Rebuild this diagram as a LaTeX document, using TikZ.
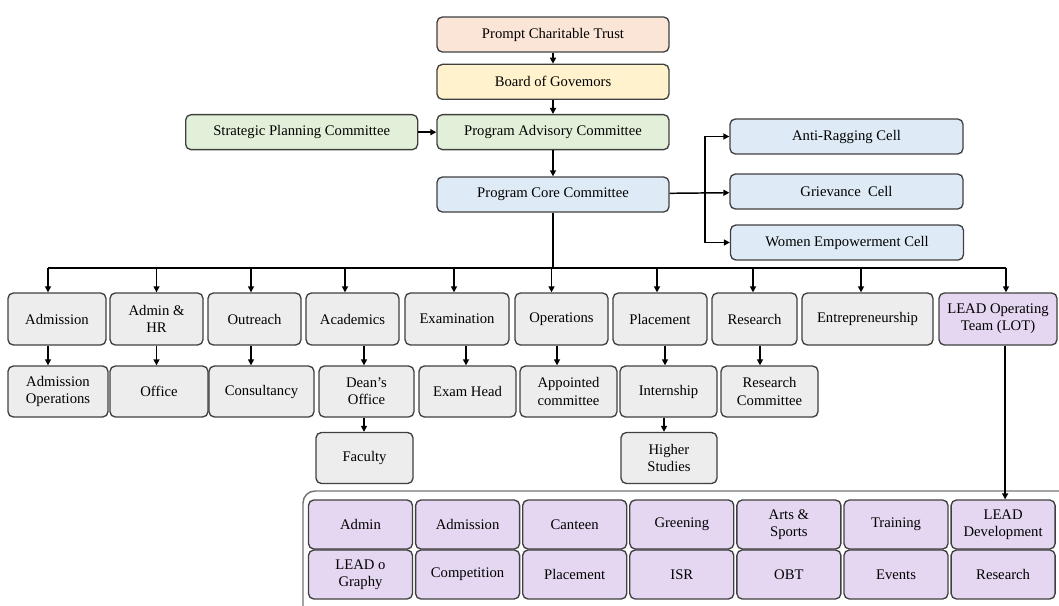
\documentclass[tikz,border=0pt]{standalone}
\usepackage{fontspec}
\setmainfont{Liberation Serif}
\usetikzlibrary{positioning,arrows.meta,calc}
\definecolor{boxline}{HTML}{404040}
\definecolor{peach}{HTML}{FBE5D6}
\definecolor{lemon}{HTML}{FFF2CC}
\definecolor{mint}{HTML}{E2F0D9}
\definecolor{sky}{HTML}{DEEBF7}
\definecolor{ash}{HTML}{EDEDED}
\definecolor{lilac}{HTML}{E5D7F1}
\tikzset{
  box/.style   ={draw=boxline, line width=1pt, rounded corners=4pt, align=center,
                 inner sep=1pt, font=\fontsize{11}{13}\selectfont},
  head/.style  ={box, minimum width=174pt, minimum height=26.25pt},
  cell/.style  ={box, fill=sky, minimum width=174.75pt, minimum height=26.25pt},
  dept/.style  ={box, fill=ash, minimum height=39pt},
  sub/.style   ={box, fill=ash, minimum height=38.25pt, minimum width=72.75pt},
  team/.style  ={box, fill=lilac, minimum width=78pt, minimum height=36.75pt},
  ln/.style    ={line width=1.1pt},
  fl/.style    ={ln, -{Triangle[length=4.5pt,width=4.5pt]}},
}

\begin{document}
\begin{tikzpicture}[x=0.75pt,y=-0.75pt]
  \useasboundingbox (0,0) rectangle (1059,606);

  % ---- governance chain ------------------------------------------------
  \node[head, fill=peach] (trust) at (553,34.5) {Prompt Charitable Trust};
  \node[head, fill=lemon, below=8.25pt of trust] (gov) {Board of Govemors};
  \node[head, fill=mint, below=10.5pt of gov] (pac) {Program Advisory Committee};
  \node[head, fill=mint, left=13.5pt of pac] (spc) {Strategic Planning Committee};
  \node[head, fill=sky, below=19.5pt of pac] (pcc) {Program Core Committee};

  % ---- cells -------------------------------------------------------------
  \node[cell] (arc)   at (846.5,136.5) {Anti-Ragging Cell};
  \node[cell] (griev) at (846.5,191.5) {Grievance\ \ Cell};
  \node[cell] (wec)   at (847,242.5)   {Women Empowerment Cell};
  \coordinate (br) at (705,191.5);

  \draw[fl] (trust) -- (gov);
  \draw[fl] (gov) -- (pac);
  \draw[fl] (spc) -- (pac);
  \draw[fl] (pac) -- (pcc);
  \draw[fl] (pcc) -- (griev);
  \draw[ln] (br |- arc) -- (br |- wec);
  \draw[fl] (br |- arc) -- (arc);
  \draw[fl] (br |- wec) -- (wec);

  % ---- departments -------------------------------------------------------
  \node[dept, minimum width=73.5pt]  (adm)  at (57,319)    {Admission};
  \node[dept, minimum width=69.75pt] (ahr)  at (156.5,319) {Admin \&\\HR};
  \node[dept, minimum width=69.75pt] (outr) at (254.5,319) {Outreach};
  \node[dept, minimum width=69.75pt] (acad) at (352.5,319) {Academics};
  \node[dept, minimum width=78pt]    (exam) at (457,319)   {Examination};
  \node[dept, minimum width=69.75pt] (oper) at (561.5,319) {Operations};
  \node[dept, minimum width=70.5pt]  (plac) at (660,319)   {Placement};
  \node[dept, minimum width=63.75pt] (res)  at (754.5,319) {Research};
  \node[dept, minimum width=98.25pt] (entr) at (867.5,319) {Entrepreneurship};
  \node[dept, fill=lilac, minimum width=88.5pt] (lot) at (998,319)
        {LEAD Operating\\Team (LOT)};

  \coordinate (bus) at (0,268);
  \draw[ln] (pcc.south) -- (pcc.south |- bus);
  \draw[ln] ([xshift=-6.75pt]adm.north |- bus) -- ([xshift=6pt]lot.north |- bus);
  \foreach \n/\dx in {adm/-9, ahr/0, outr/-3.5, acad/-7.5, exam/-3,
                      oper/-10, plac/-3, res/-1.5, entr/-6.5, lot/8}
    \draw[fl] ([xshift=\dx*0.75pt]\n.north |- bus) -- ([xshift=\dx*0.75pt]\n.north);

  % ---- sub units ---------------------------------------------------------
  \node[sub, minimum width=75pt]    (admops)   at (58,391.5)    {Admission\\Operations};
  \node[sub, minimum width=73.5pt]  (office)   at (159,391.5)   {Office};
  \node[sub, minimum width=78.75pt] (cons)     at (261.5,391.5) {Consultancy};
  \node[sub, minimum width=71.25pt] (dean)     at (366.5,391.5) {Dean's\\Office};
  \node[sub]                        (examhead) at (467.5,391.5) {Exam Head};
  \node[sub]                        (appt)     at (568.5,391.5) {Appointed\\committee};
  \node[sub]                        (intern)   at (668.5,391.5) {Internship};
  \node[sub]                        (rescom)   at (769.5,391.5) {Research\\Committee};
  \node[sub]                        (fac)      at (364.5,458)   {Faculty};
  \node[sub, minimum width=72pt]    (higher)   at (669,458)     {Higher\\Studies};

  \foreach \p/\c/\dx in {adm/admops/-9, ahr/office/0, outr/cons/-3.5,
                         acad/dean/11.5, exam/examhead/9, oper/appt/-4.5,
                         plac/intern/5, res/rescom/5.5, dean/fac/-2.5,
                         intern/higher/-4.5}
    \draw[fl] ([xshift=\dx*0.75pt]\p.south) -- ([xshift=\dx*0.75pt]\p.south |- \c.north);

  % ---- LEAD operating team -----------------------------------------------
  \draw[draw=black!55, line width=1.1pt, rounded corners=9pt] (303,491) rectangle (1075,625);
  \foreach \nm/\txt [count=\i from 0] in {tadmin/Admin, tadm/Admission, tcant/Canteen,
        tgreen/Greening, tarts/{Arts \&\\Sports}, ttrain/Training, ldev/{LEAD\\Development}}
    \node[team] (\nm) at (360.5+107.1*\i,524.5) {\txt};
  \foreach \nm/\txt [count=\i from 0] in {tgraphy/{LEAD o\\Graphy}, tcomp/Competition,
        tplac/Placement, tisr/ISR, tobt/OBT, tevent/Events, tres/Research}
    \node[team] (\nm) at (360.5+107.1*\i,574.5) {\txt};

  \draw[fl] ([xshift=1.5pt]ldev.north |- lot.south) -- ([xshift=1.5pt]ldev.north);
\end{tikzpicture}
\end{document}
